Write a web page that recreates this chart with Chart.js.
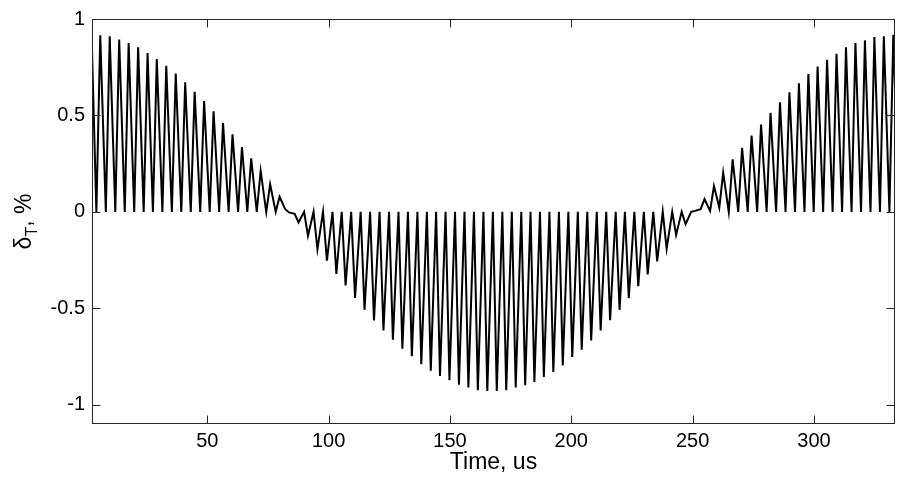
<!DOCTYPE html>
<html>
<head>
<meta charset="utf-8">
<script src="https://cdn.jsdelivr.net/npm/chart.js@4.4.1/dist/chart.umd.min.js"></script>
<style>
  html, body { margin: 0; padding: 0; background: #ffffff; }
  #wrap { width: 908px; height: 477px; position: relative; }
</style>
</head>
<body>
<div id="wrap"><canvas id="c" width="908" height="477"></canvas></div>
<script>
// ---- data ----
// time (us) of each pulse extremum
const peakTimes = [5.9, 9.8, 13.7, 17.6, 21.5, 25.4, 29.2, 33.1, 37.0, 40.9, 44.8, 48.7, 52.6, 56.5, 60.4, 64.3, 68.1, 72.0, 75.9, 79.8,
  83.7, 87.6, 91.5, 95.4, 99.3, 103.2, 107.0, 110.9, 114.8, 118.7, 122.6, 126.5, 130.4, 134.3, 138.2, 142.1, 145.9, 149.8, 153.7, 157.6,
  161.5, 165.4, 169.3, 173.2, 177.1, 181.0, 184.8, 188.7, 192.6, 196.5, 200.4, 204.3, 208.2, 212.1, 216.0, 219.9, 223.7, 227.6, 231.5, 235.4,
  239.3, 243.2, 247.1, 251.0, 254.9, 258.8, 262.6, 266.5, 270.4, 274.3, 278.2, 282.1, 286.0, 289.9, 293.8, 297.7, 301.5, 305.4, 309.3, 313.2,
  317.1, 321.0, 324.9, 328.8, 332.7];
// value at each pulse extremum (delta_T, %)
const peakValues = [0.915, 0.910, 0.893, 0.875, 0.853, 0.823, 0.792, 0.758, 0.717, 0.672, 0.622, 0.574, 0.522, 0.461, 0.402, 0.336, 0.277, 0.212, 0.143, 0.078,
  -0.003, -0.055, -0.124, -0.193, -0.253, -0.322, -0.382, -0.446, -0.508, -0.563, -0.615, -0.663, -0.710, -0.749, -0.790, -0.824, -0.851, -0.873, -0.896, -0.911,
  -0.925, -0.929, -0.929, -0.925, -0.911, -0.899, -0.882, -0.856, -0.830, -0.796, -0.753, -0.715, -0.667, -0.615, -0.562, -0.508, -0.447, -0.385, -0.325, -0.257,
  -0.192, -0.120, -0.064, 0.005, 0.066, 0.134, 0.203, 0.272, 0.332, 0.396, 0.453, 0.513, 0.568, 0.620, 0.667, 0.715, 0.753, 0.789, 0.820, 0.853,
  0.875, 0.889, 0.906, 0.911, 0.918];
// value of the baseline point just before each pulse (last entry: after the final pulse)
const troughValues = [0, 0, 0, 0, 0, 0, 0, 0, 0, 0, 0, 0, 0, 0, 0, 0, 0, 0, 0, 0,
  0.014, -0.010, 0, 0, 0, 0, 0, 0, 0, 0, 0, 0, 0, 0, 0, 0, 0, 0, 0, 0,
  0, 0, 0, 0, 0, 0, 0, 0, 0, 0, 0, 0, 0, 0, 0, 0, 0, 0, 0, 0,
  0, 0, 0, 0, 0.014, 0.005, 0.022, 0, 0, 0, 0, 0, 0, 0, 0, 0, 0, 0, 0, 0,
  0, 0, 0, 0, 0, 0];
const riseTime = 1.6;          // us from baseline to extremum
const startSample = { t: 2.5, v: 0.84 };
const endTroughTime = 335.0;
const xTicks = [50, 100, 150, 200, 250, 300];
const yTicks = [-1, -0.5, 0, 0.5, 1];
const xRange = [2.5, 333.4];
const yRange = [-1.1, 1];

// ---- build the line ----
const points = [{ x: startSample.t, y: startSample.v }];
for (let k = 0; k < peakTimes.length; k++) {
  points.push({ x: +(peakTimes[k] - riseTime).toFixed(2), y: troughValues[k] });
  points.push({ x: peakTimes[k], y: peakValues[k] });
}
points.push({ x: endTroughTime, y: troughValues[peakTimes.length] });

const AXIS = '#262626';
const FONT = "'Liberation Sans', Arial, Helvetica, sans-serif";

const boxPlugin = {
  id: 'box',
  afterDraw(chart) {
    const { ctx, chartArea: a, scales: { x, y } } = chart;
    ctx.save();
    ctx.strokeStyle = AXIS;
    ctx.lineWidth = 1;
    const L = Math.round(a.left) + 0.5, R = Math.round(a.right) - 0.5;
    const T = Math.round(a.top) + 0.5, B = Math.round(a.bottom) - 0.5;
    ctx.strokeRect(L, T, R - L, B - T);
    const tl = 8;
    ctx.beginPath();
    xTicks.forEach(v => {
      const px = Math.round(x.getPixelForValue(v)) + 0.5;
      ctx.moveTo(px, B); ctx.lineTo(px, B - tl);
      ctx.moveTo(px, T); ctx.lineTo(px, T + tl);
    });
    yTicks.forEach(v => {
      const py = Math.round(y.getPixelForValue(v)) + 0.5;
      ctx.moveTo(L, py); ctx.lineTo(L + tl, py);
      ctx.moveTo(R, py); ctx.lineTo(R - tl, py);
    });
    ctx.stroke();

    // y-axis title with subscript: δ_T, %
    ctx.fillStyle = '#000';
    const cy = (a.top + a.bottom) / 2;
    ctx.translate(31, cy);
    ctx.rotate(-Math.PI / 2);
    const big = '23px ' + FONT, small = '16px ' + FONT;
    ctx.font = big; const w1 = ctx.measureText('δ').width;
    ctx.font = small; const w2 = ctx.measureText('T').width;
    ctx.font = big; const w3 = ctx.measureText(', %').width;
    let sx = -(w1 + w2 + w3) / 2;
    ctx.textBaseline = 'alphabetic';
    ctx.font = big; ctx.fillText('δ', sx, 0); sx += w1;
    ctx.font = small; ctx.fillText('T', sx, 6); sx += w2;
    ctx.font = big; ctx.fillText(', %', sx, 0);
    ctx.restore();
  }
};

new Chart(document.getElementById('c'), {
  type: 'line',
  data: {
    datasets: [{
      data: points,
      borderColor: '#000000',
      borderWidth: 2,
      pointRadius: 0,
      tension: 0,
      fill: false
    }]
  },
  options: {
    responsive: false,
    devicePixelRatio: 1,
    animation: false,
    parsing: true,
    layout: { padding: { top: 18, right: 13, left: 0, bottom: 0 } },
    plugins: { legend: { display: false }, tooltip: { enabled: false } },
    scales: {
      x: {
        type: 'linear',
        min: xRange[0], max: xRange[1],
        afterBuildTicks: s => { s.ticks = xTicks.map(v => ({ value: v })); },
        afterFit: s => { s.height = 53; },
        grid: { display: false, drawTicks: false },
        border: { display: false },
        ticks: { color: '#000', font: { family: FONT, size: 20 }, padding: 5, maxRotation: 0, callback: v => String(v) },
        title: { display: true, text: 'Time, us', color: '#000', font: { family: FONT, size: 23 }, padding: { top: 0, bottom: 1 } }
      },
      y: {
        type: 'linear',
        min: yRange[0], max: yRange[1],
        afterBuildTicks: s => { s.ticks = yTicks.map(v => ({ value: v })); },
        afterFit: s => { s.width = 92; },
        grid: { display: false, drawTicks: false },
        border: { display: false },
        ticks: { color: '#000', font: { family: FONT, size: 20 }, padding: 7, callback: v => String(v) }
      }
    }
  },
  plugins: [boxPlugin]
});
</script>
</body>
</html>
